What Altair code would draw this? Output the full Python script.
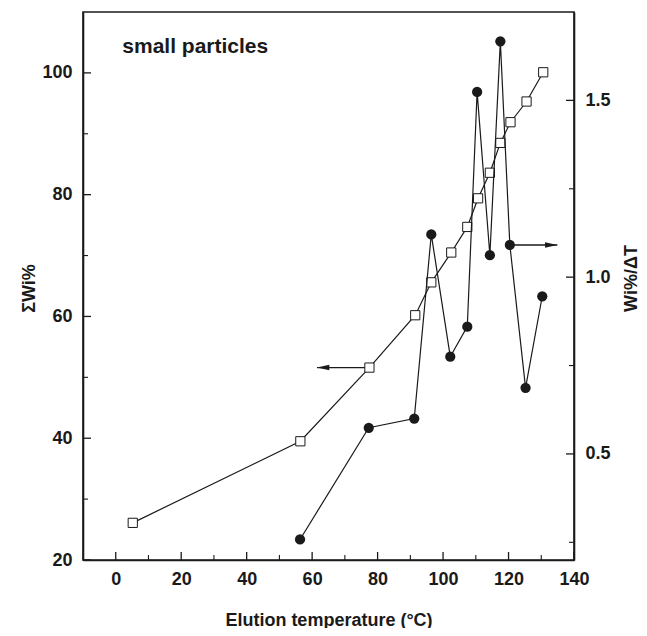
import altair as alt
import pandas as pd

# ---- data ----
sq_temp = [5.2, 56.4, 77.5, 91.5, 96.4, 102.5, 107.4, 110.7, 114.3, 117.5, 120.6, 125.5, 130.6]
sq_cum = [26.1, 39.5, 51.6, 60.2, 65.6, 70.5, 74.7, 79.4, 83.6, 88.5, 91.9, 95.3, 100.1]

ci_temp = [56.3, 77.3, 91.2, 96.4, 102.2, 107.4, 110.4, 114.3, 117.5, 120.4, 125.2, 130.3]
ci_val = [0.258, 0.574, 0.600, 1.121, 0.775, 0.860, 1.524, 1.062, 1.667, 1.091, 0.687, 0.946]

# arrows: start x, end x (tip), y
arrow_left = {"x1": [77.5], "x2": [61.5], "y": [51.6]}
arrow_right = {"x1": [120.4], "x2": [134.9], "y": [1.091]}

label_text = ["small particles"]
label_x = [2.0]
label_y = [104.2]

x_major = [0, 20, 40, 60, 80, 100, 120, 140]
x_minor = [10, 30, 50, 70, 90, 110, 130]
yl_major = [20, 40, 60, 80, 100]
yl_minor = [30, 50, 70, 90]
yr_major = [0.5, 1.0, 1.5]
yr_minor = [0.25, 0.75, 1.25]

W, H = 491, 548
INK = "#1a1a1a"
FONT = "Liberation Sans"

xs = alt.Scale(domain=[-10, 140], nice=False, zero=False)
yls = alt.Scale(domain=[20, 110], nice=False, zero=False)
yrs = alt.Scale(domain=[0.2, 1.75], nice=False, zero=False)

x_axis = alt.Axis(values=x_major, ticks=False, grid=False, labelPadding=10, labelFlush=False,
                  title="Elution temperature (°C)", titleFontSize=18, titleFontWeight="bold",
                  titleY=65, titleBaseline="alphabetic", titleX=W / 2, titleAlign="center")
yl_axis = alt.Axis(values=yl_major, ticks=False, grid=False, labelPadding=11, labelFlush=False,
                   title="ΣWi%", titleAngle=270, titleX=-54, titleY=H / 2 + 2,
                   titleAlign="center", titleBaseline="middle", titleFontSize=18,
                   titleFontWeight="bold", orient="left")
yr_axis = alt.Axis(values=yr_major, ticks=False, grid=False, labelPadding=11, format=".1f",
                   labelFlush=False,
                   title="Wi%/ΔT", titleAngle=270, titleX=57, titleY=H / 2 - 8,
                   titleAlign="center", titleBaseline="middle", titleFontSize=18,
                   titleFontWeight="bold", orient="right")


def X(f):
    return alt.X(f, scale=xs, axis=x_axis)


def YL(f):
    return alt.Y(f, scale=yls, axis=yl_axis)


def YR(f):
    return alt.Y(f, scale=yrs, axis=yr_axis)


sq_df = pd.DataFrame({"t": sq_temp, "v": sq_cum})
ci_df = pd.DataFrame({"t": ci_temp, "v": ci_val})

# ---- left (cumulative) group ----
sq_line = alt.Chart(sq_df).mark_line(color=INK, strokeWidth=1.2).encode(x=X("t:Q"), y=YL("v:Q"))
sq_pts = alt.Chart(sq_df).mark_point(shape="square", filled=True, fill="white",
                                     stroke=INK, strokeWidth=1, size=85, opacity=1).encode(
    x=X("t:Q"), y=YL("v:Q"))
al_df = pd.DataFrame(arrow_left)
al_rule = alt.Chart(al_df).mark_rule(color=INK, strokeWidth=1.3).encode(
    x=X("x1:Q"), x2="x2:Q", y=YL("y:Q"))
al_head = alt.Chart(al_df).mark_point(shape="M0,0L2,-0.45L2,0.45Z", filled=True,
                                      color=INK, size=150, opacity=1).encode(
    x=X("x2:Q"), y=YL("y:Q"))
label = alt.Chart(pd.DataFrame({"x": label_x, "y": label_y, "s": label_text})).mark_text(
    align="left", baseline="middle", fontSize=21, fontWeight="bold", font=FONT, color=INK
).encode(x=X("x:Q"), y=YL("y:Q"), text="s:N")
yl_tmaj = alt.Chart(pd.DataFrame({"v": yl_major})).mark_rule(color=INK, strokeWidth=1.3).encode(
    y=YL("v:Q"), x=alt.value(0), x2=alt.value(8))
yl_tmin = alt.Chart(pd.DataFrame({"v": yl_minor})).mark_rule(color=INK, strokeWidth=1.1).encode(
    y=YL("v:Q"), x=alt.value(0), x2=alt.value(5))
x_tmaj = alt.Chart(pd.DataFrame({"v": x_major})).mark_rule(color=INK, strokeWidth=1.3).encode(
    x=X("v:Q"), y=alt.value(H), y2=alt.value(H - 8))
x_tmin = alt.Chart(pd.DataFrame({"v": x_minor})).mark_rule(color=INK, strokeWidth=1.1).encode(
    x=X("v:Q"), y=alt.value(H), y2=alt.value(H - 5))

left = alt.layer(sq_line, al_rule, al_head, sq_pts, label, yl_tmaj, yl_tmin, x_tmaj, x_tmin)

# ---- right (differential) group ----
ci_line = alt.Chart(ci_df).mark_line(color=INK, strokeWidth=1.2).encode(x=X("t:Q"), y=YR("v:Q"))
ci_pts = alt.Chart(ci_df).mark_circle(color=INK, size=105, opacity=1).encode(
    x=X("t:Q"), y=YR("v:Q"))
ar_df = pd.DataFrame(arrow_right)
ar_rule = alt.Chart(ar_df).mark_rule(color=INK, strokeWidth=1.3).encode(
    x=X("x1:Q"), x2="x2:Q", y=YR("y:Q"))
ar_head = alt.Chart(ar_df).mark_point(shape="M0,0L-2,-0.45L-2,0.45Z", filled=True,
                                      color=INK, size=150, opacity=1).encode(
    x=X("x2:Q"), y=YR("y:Q"))
yr_tmaj = alt.Chart(pd.DataFrame({"v": yr_major})).mark_rule(color=INK, strokeWidth=1.3).encode(
    y=YR("v:Q"), x=alt.value(W - 8), x2=alt.value(W))
yr_tmin = alt.Chart(pd.DataFrame({"v": yr_minor})).mark_rule(color=INK, strokeWidth=1.1).encode(
    y=YR("v:Q"), x=alt.value(W - 5), x2=alt.value(W))

right = alt.layer(ci_line, ar_rule, ar_head, ci_pts, yr_tmaj, yr_tmin)

chart = alt.layer(left, right).resolve_scale(y="independent").properties(
    width=W, height=H,
    autosize=alt.AutoSizeParams(type="none"),
    padding={"left": 75, "top": 4, "right": 65, "bottom": 68},
    background="white",
).configure_view(
    stroke=INK, strokeWidth=1.6
).configure_axis(
    domainColor=INK, domainWidth=1.6, labelFont=FONT, labelFontSize=18,
    labelFontWeight="bold", labelColor=INK, titleFont=FONT, titleColor=INK,
)

chart.save("out.html", embed_options={"renderer": "svg", "actions": False})
